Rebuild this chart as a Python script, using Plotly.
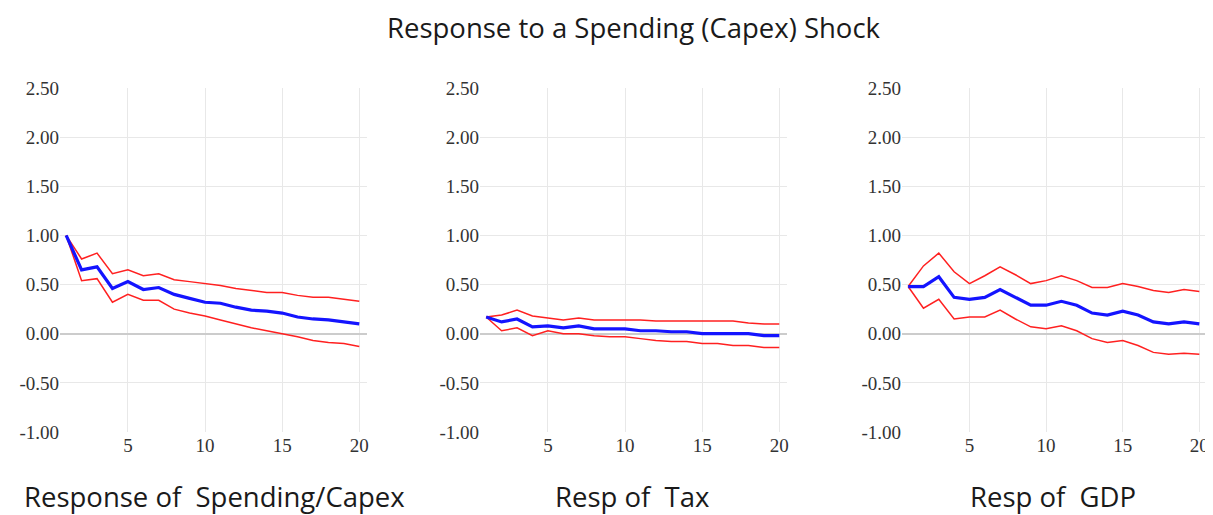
import plotly.graph_objects as go

periods = list(range(1, 21))

spend_mid = [1.00, 0.65, 0.68, 0.46, 0.53, 0.45, 0.47, 0.40, 0.36, 0.32, 0.31, 0.27, 0.24, 0.23, 0.21, 0.17, 0.15, 0.14, 0.12, 0.10]
spend_up = [1.00, 0.76, 0.82, 0.61, 0.65, 0.59, 0.61, 0.55, 0.53, 0.51, 0.49, 0.46, 0.44, 0.42, 0.42, 0.39, 0.37, 0.37, 0.35, 0.33]
spend_lo = [1.00, 0.54, 0.56, 0.32, 0.40, 0.34, 0.34, 0.25, 0.21, 0.18, 0.14, 0.10, 0.06, 0.03, 0.00, -0.03, -0.07, -0.09, -0.10, -0.13]

tax_mid = [0.17, 0.12, 0.15, 0.07, 0.08, 0.06, 0.08, 0.05, 0.05, 0.05, 0.03, 0.03, 0.02, 0.02, 0.00, 0.00, 0.00, 0.00, -0.02, -0.02]
tax_up = [0.17, 0.19, 0.24, 0.18, 0.16, 0.14, 0.16, 0.14, 0.14, 0.14, 0.14, 0.13, 0.13, 0.13, 0.13, 0.13, 0.13, 0.11, 0.10, 0.10]
tax_lo = [0.17, 0.03, 0.06, -0.02, 0.03, 0.00, 0.00, -0.02, -0.03, -0.03, -0.05, -0.07, -0.08, -0.08, -0.10, -0.10, -0.12, -0.12, -0.14, -0.14]

gdp_mid = [0.48, 0.48, 0.58, 0.37, 0.35, 0.37, 0.45, 0.37, 0.29, 0.29, 0.33, 0.29, 0.21, 0.19, 0.23, 0.19, 0.12, 0.10, 0.12, 0.10]
gdp_up = [0.48, 0.69, 0.82, 0.63, 0.51, 0.59, 0.68, 0.60, 0.51, 0.54, 0.59, 0.54, 0.47, 0.47, 0.51, 0.48, 0.44, 0.42, 0.45, 0.43]
gdp_lo = [0.48, 0.26, 0.35, 0.15, 0.17, 0.17, 0.24, 0.15, 0.07, 0.05, 0.08, 0.03, -0.05, -0.09, -0.07, -0.12, -0.19, -0.21, -0.20, -0.21]

main_title = "Response to a Spending (Capex) Shock"
panel_titles = ["Response of \u00a0Spending/Capex", "Resp of \u00a0Tax", "Resp of \u00a0GDP"]
y_ticks = [-1.0, -0.5, 0.0, 0.5, 1.0, 1.5, 2.0, 2.5]
y_tick_labels = ["-1.00", "-0.50", "0.00", "0.50", "1.00", "1.50", "2.00", "2.50"]
x_ticks = [5, 10, 15, 20]

panels = [(spend_mid, spend_up, spend_lo), (tax_mid, tax_up, tax_lo), (gdp_mid, gdp_up, gdp_lo)]

OFF = 8  # page body margin
W, H = 1213 - OFF, 515 - OFF


def px_x(p):
    return (p - OFF) / W


def px_y(p):
    return 1 - (p - OFF) / H


x_px = [(60, 367), (480, 787), (902, 1207)]
y_dom = [px_y(432), px_y(88)]

fig = go.Figure()
for i, (mid, up, lo) in enumerate(panels):
    ax = "" if i == 0 else str(i + 1)
    for series, color, width in [(up, "#ff2020", 1.5), (lo, "#ff2020", 1.5), (mid, "#1414ff", 3.2)]:
        fig.add_trace(go.Scatter(x=periods, y=series, mode="lines",
                                 line=dict(color=color, width=width),
                                 xaxis="x" + ax, yaxis="y" + ax, showlegend=False,
                                 hoverinfo="skip"))
    tick_font = dict(family="Liberation Serif, Times New Roman, serif", size=19, color="#333333")
    fig.layout["xaxis" + ax] = dict(domain=[px_x(x_px[i][0]), min(1.0, px_x(x_px[i][1]))], range=[0.6, 20.5],
                                    tickvals=x_ticks, showgrid=True, gridcolor="#e8e8e8", gridwidth=1,
                                    zeroline=False, showline=False, ticks="", tickfont=tick_font,
                                    anchor="y" + ax, fixedrange=True, automargin=False)
    fig.layout["yaxis" + ax] = dict(domain=y_dom, range=[-1.0, 2.5], tickvals=y_ticks,
                                    ticktext=y_tick_labels, showgrid=True, gridcolor="#e8e8e8", gridwidth=1,
                                    zeroline=True, zerolinecolor="#cccccc", zerolinewidth=1.5,
                                    showline=False, ticks="", tickfont=tick_font,
                                    anchor="x" + ax, fixedrange=True, automargin=False)

title_font = dict(family="Open Sans, Liberation Sans, sans-serif", size=27.5, color="#1a1a1a")
fig.add_annotation(text=main_title, xref="paper", yref="paper", x=px_x(634), y=px_y(28),
                   showarrow=False, xanchor="center", yanchor="middle", font=title_font)
sub_x = [(22, "left"), (632, "center"), (1053, "center")]
for (px, anc), t in zip(sub_x, panel_titles):
    fig.add_annotation(text=t, xref="paper", yref="paper", x=px_x(px), y=px_y(496),
                       showarrow=False, xanchor=anc, yanchor="middle", font=title_font)

fig.update_layout(width=W, height=H, margin=dict(l=0, r=0, t=0, b=0, autoexpand=False),
                  paper_bgcolor="white", plot_bgcolor="white")
fig.write_html("out.html")
